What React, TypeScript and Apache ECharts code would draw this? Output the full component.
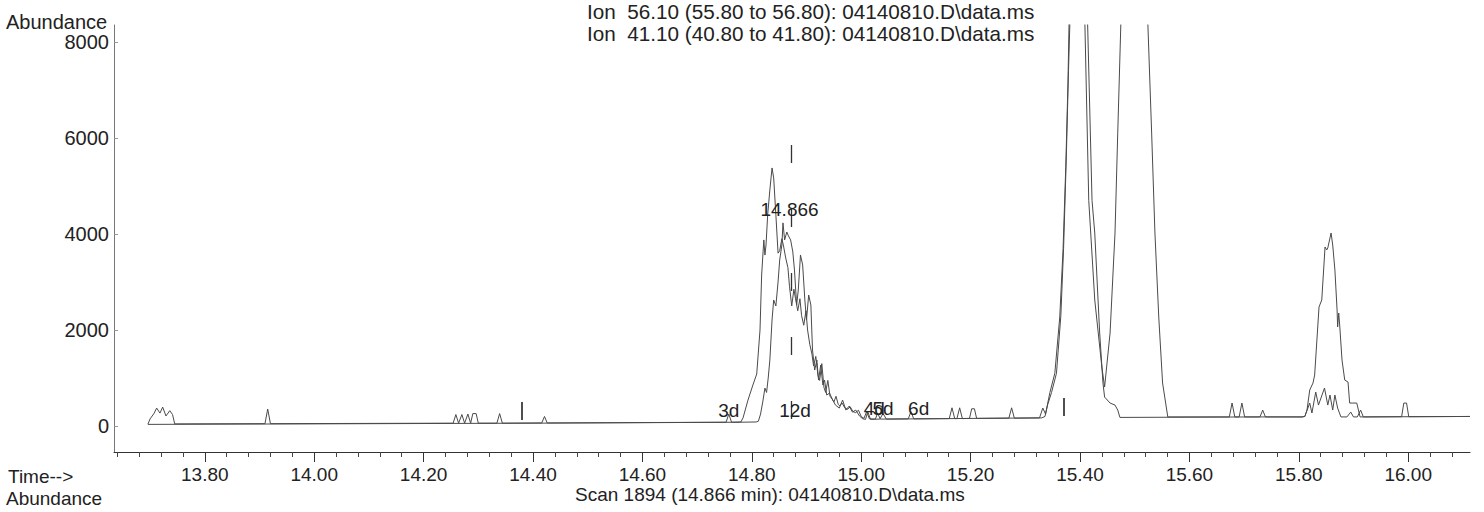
import React, { useEffect, useRef } from "react";
import * as echarts from "echarts";

// ---- data ----
const ion56Trace: [number, number][] = [
  [13.696, 40], [13.700, 150], [13.707, 260], [13.712, 375], [13.718, 270], [13.723, 395], [13.729, 210], [13.736, 320], [13.741, 240], [13.745, 45],
  [13.910, 50], [13.915, 354], [13.920, 50],
  [14.254, 60], [14.259, 240], [14.264, 60], [14.270, 240], [14.275, 60], [14.281, 250], [14.286, 60], [14.290, 260], [14.296, 260], [14.300, 60],
  [14.334, 60], [14.339, 260], [14.344, 60],
  [14.416, 65], [14.421, 200], [14.426, 65],
  [14.753, 80], [14.758, 250], [14.763, 80],
  [14.780, 85], [14.784, 170], [14.793, 540], [14.802, 854], [14.809, 1083], [14.815, 2000], [14.818, 3145], [14.822, 3875], [14.824, 3560], [14.826, 3770], [14.829, 4395], [14.833, 4916], [14.837, 5374], [14.840, 5166], [14.844, 4400], [14.848, 3600],
  [14.851, 3650], [14.855, 3900], [14.858, 3750], [14.862, 3500], [14.866, 3300], [14.869, 2900], [14.873, 2500], [14.877, 2850], [14.880, 2650], [14.884, 2400], [14.888, 2650], [14.891, 2300], [14.895, 2100], [14.899, 2400], [14.902, 2000], [14.906, 1700], [14.910, 1500], [14.913, 1250], [14.917, 1450], [14.921, 1050], [14.924, 950], [14.928, 1300], [14.932, 800], [14.935, 700], [14.939, 950], [14.943, 620], [14.947, 560], [14.950, 500], [14.954, 620], [14.958, 450], [14.961, 420], [14.965, 480], [14.970, 380], [14.975, 350], [14.980, 400], [14.985, 300], [14.990, 280], [14.995, 330], [15.000, 200], [15.005, 160], [15.010, 300], [15.015, 150], [15.026, 145], [15.030, 270], [15.035, 145],
  [15.086, 150], [15.091, 300], [15.096, 150],
  [15.161, 155], [15.166, 380], [15.171, 155], [15.175, 155], [15.180, 380], [15.185, 155], [15.198, 160], [15.202, 360], [15.207, 360], [15.211, 160],
  [15.326, 170], [15.332, 375], [15.337, 250], [15.345, 700], [15.354, 1100], [15.363, 2270], [15.369, 3666], [15.374, 5400], [15.378, 7145], [15.381, 9000], [15.387, 12500], [15.394, 15000], [15.401, 12500], [15.409, 8350], [15.416, 4700], [15.427, 2625], [15.440, 1229], [15.445, 812], [15.455, 1937], [15.464, 4020], [15.469, 6100], [15.475, 8500], [15.482, 11000], [15.491, 15000], [15.500, 17000], [15.509, 15000], [15.518, 11000], [15.524, 8400], [15.531, 6100], [15.537, 4020], [15.544, 2270], [15.551, 896], [15.5605, 190],
  [15.673, 190], [15.678, 480], [15.683, 190], [15.691, 190], [15.696, 480], [15.701, 190],
  [15.806, 190], [15.811, 200], [15.815, 333], [15.820, 750], [15.826, 896], [15.829, 1062], [15.837, 2479], [15.842, 2625], [15.848, 3729], [15.851, 3666], [15.853, 3708], [15.857, 3916], [15.859, 4020], [15.862, 3770], [15.866, 3250], [15.870, 2416], [15.871, 2062], [15.873, 2354], [15.875, 2062], [15.879, 1375], [15.884, 958], [15.890, 916], [15.893, 479], [15.899, 479], [15.906, 479], [15.912, 190],
  [16.113, 200],
];

const ion41Trace: [number, number][] = [
  [13.696, 35], [14.400, 60], [14.780, 80],
  [14.808, 85], [14.812, 100], [14.816, 250], [14.820, 500], [14.824, 790], [14.827, 700], [14.830, 1000], [14.833, 1375], [14.837, 2208], [14.840, 2625], [14.844, 2500], [14.848, 3000], [14.851, 3458], [14.855, 3770], [14.857, 4230], [14.860, 3875], [14.864, 4040], [14.867, 3960], [14.871, 3875], [14.875, 3625], [14.878, 3250], [14.882, 2520], [14.885, 2833], [14.889, 3562], [14.893, 3354], [14.897, 2625], [14.900, 2208], [14.904, 2729], [14.908, 2520], [14.911, 1583], [14.915, 1166], [14.919, 1375], [14.922, 958], [14.926, 1270], [14.930, 854], [14.933, 958], [14.937, 646], [14.942, 687], [14.948, 541], [14.953, 437], [14.960, 375], [14.966, 541], [14.972, 333], [14.978, 416], [14.984, 291], [14.990, 333], [14.997, 208], [15.003, 150], [15.008, 140], [15.012, 300], [15.017, 140], [15.034, 145], [15.040, 260], [15.046, 145],
  [15.270, 165], [15.275, 380], [15.280, 165],
  [15.330, 170], [15.336, 200], [15.341, 450], [15.348, 700], [15.357, 1100], [15.365, 2300], [15.370, 3700], [15.375, 5600], [15.379, 7400], [15.383, 9000], [15.395, 14000], [15.405, 10500], [15.414, 8350], [15.422, 4700], [15.427, 4020], [15.436, 1937], [15.442, 896], [15.445, 604], [15.455, 479], [15.464, 437], [15.469, 333], [15.473, 180],
  [15.729, 190], [15.734, 333], [15.739, 190],
  [15.806, 190], [15.811, 200], [15.820, 479], [15.824, 271], [15.831, 708], [15.836, 437], [15.847, 792], [15.853, 437], [15.857, 646], [15.862, 333], [15.866, 646], [15.871, 375], [15.877, 190], [15.888, 190], [15.895, 291], [15.900, 190], [15.907, 190], [15.913, 333], [15.918, 190],
  [15.988, 195], [15.992, 479], [15.997, 479], [16.001, 195], [16.113, 200],
];

const xMajorTicks = [13.8, 14.0, 14.2, 14.4, 14.6, 14.8, 15.0, 15.2, 15.4, 15.6, 15.8, 16.0];
const xMinorTicks = [
  13.64, 13.68, 13.72, 13.76, 13.84, 13.88, 13.92, 13.96, 14.04, 14.08, 14.12, 14.16,
  14.24, 14.28, 14.32, 14.36, 14.44, 14.48, 14.52, 14.56, 14.64, 14.68, 14.72, 14.76,
  14.84, 14.88, 14.92, 14.96, 15.04, 15.08, 15.12, 15.16, 15.24, 15.28, 15.32, 15.36,
  15.44, 15.48, 15.52, 15.56, 15.64, 15.68, 15.72, 15.76, 15.84, 15.88, 15.92, 15.96,
  16.04, 16.08,
];
const yTicks = [0, 2000, 4000, 6000, 8000];

const peakLabels = ["3d", "12d", "4d", "5d", "6d", "14.866"];
const peakLabelTimes = [14.758, 14.879, 15.024, 15.040, 15.105, 14.869];
const peakLabelHeights = [333, 333, 375, 375, 375, 4500];

const scanMarkerTime = 14.873;
const scanMarkerRange = [5850, 0];
const integrationMarks: [number, number, number][] = [
  [14.38, 125, 500],
  [15.37, 208, 583],
];

const titleLines = [
  "Ion  56.10 (55.80 to 56.80): 04140810.D\\data.ms",
  "Ion  41.10 (40.80 to 41.80): 04140810.D\\data.ms",
];
const scanText = "Scan 1894 (14.866 min): 04140810.D\\data.ms";

const FONT = '"Liberation Sans", Arial, sans-serif';
const TEXT = "#222";
const LINE = "#4a4a4a";

export default function App() {
  const ref = useRef<HTMLDivElement>(null);
  useEffect(() => {
    if (!ref.current) return;
    const chart = echarts.init(ref.current, null, { renderer: "svg" });
    const xMin = 13.634;
    const xMax = 16.113;
    const markLineData: any[] = [
      [
        { coord: [scanMarkerTime, scanMarkerRange[0]], lineStyle: { type: [18, 46], color: "#333", width: 1.3 } },
        { coord: [scanMarkerTime, scanMarkerRange[1]] },
      ],
      ...integrationMarks.map(([t, a, b]) => [
        { coord: [t, a], lineStyle: { type: "solid", color: "#222", width: 1.6 } },
        { coord: [t, b] },
      ]),
    ];
    const option: any = {
      animation: false,
      backgroundColor: "#ffffff",
      textStyle: { fontFamily: FONT },
      grid: { left: 114, right: 14, top: 25, bottom: 60 },
      xAxis: [
        {
          type: "value",
          min: xMin,
          max: xMax,
          position: "bottom",
          axisLine: { show: true, onZero: false, lineStyle: { color: "#333", width: 1 } },
          axisTick: { show: true, customValues: xMajorTicks, length: 10, lineStyle: { color: "#333" } },
          axisLabel: {
            customValues: xMajorTicks,
            formatter: (v: number) => v.toFixed(2),
            fontSize: 19,
            color: TEXT,
            fontFamily: FONT,
            margin: 13,
          },
          splitLine: { show: false },
        },
        {
          type: "value",
          min: xMin,
          max: xMax,
          position: "bottom",
          axisLine: { show: false, onZero: false },
          axisTick: { show: true, customValues: xMinorTicks, length: 5, lineStyle: { color: "#444" } },
          axisLabel: { show: false },
          splitLine: { show: false },
        },
      ],
      yAxis: {
        type: "value",
        min: -540,
        max: 8350,
        axisLine: { show: true, lineStyle: { color: "#777", width: 1 } },
        axisTick: { show: true, inside: true, length: 4, customValues: yTicks, lineStyle: { color: "#999" } },
        axisLabel: {
          customValues: yTicks,
          formatter: (v: number) => String(Math.round(v)),
          fontSize: 20,
          color: TEXT,
          fontFamily: FONT,
          margin: 5,
        },
        splitLine: { show: false },
      },
      graphic: [
        { type: "text", x: 6, y: 22, style: { text: "Abundance", font: `20px ${FONT}`, fill: TEXT, verticalAlign: "middle", align: "left" } },
        { type: "text", x: 587, y: 11, style: { text: titleLines[0], font: `20.7px ${FONT}`, fill: TEXT, verticalAlign: "middle", align: "left" } },
        { type: "text", x: 587, y: 33, style: { text: titleLines[1], font: `20.7px ${FONT}`, fill: TEXT, verticalAlign: "middle", align: "left" } },
        { type: "text", x: 8, y: 476, style: { text: "Time-->", font: `19px ${FONT}`, fill: TEXT, verticalAlign: "middle", align: "left" } },
        { type: "text", x: 6, y: 498, style: { text: "Abundance", font: `19px ${FONT}`, fill: TEXT, verticalAlign: "middle", align: "left" } },
        { type: "text", x: 575, y: 494, style: { text: scanText, font: `19px ${FONT}`, fill: TEXT, verticalAlign: "middle", align: "left" } },
      ],
      series: [
        {
          name: "Ion 56.10",
          type: "line",
          data: ion56Trace,
          showSymbol: false,
          clip: true,
          lineStyle: { color: LINE, width: 1 },
          markLine: { silent: true, symbol: ["none", "none"], label: { show: false }, data: markLineData },
          markPoint: {
            silent: true,
            symbol: "circle",
            symbolSize: 1,
            itemStyle: { color: "rgba(0,0,0,0)" },
            label: { show: true, position: "inside", color: TEXT, fontSize: 19, fontFamily: FONT, formatter: (p: any) => p.name },
            data: peakLabels.map((name, i) => ({ name, coord: [peakLabelTimes[i], peakLabelHeights[i]] })),
          },
        },
        {
          name: "Ion 41.10",
          type: "line",
          data: ion41Trace,
          showSymbol: false,
          clip: true,
          lineStyle: { color: LINE, width: 1 },
        },
      ],
    };
    chart.setOption(option);
    return () => chart.dispose();
  }, []);
  return (
    <div
      ref={ref}
      style={{ position: "fixed", left: 0, top: 0, width: 1484, height: 512, background: "#fff" }}
    />
  );
}
